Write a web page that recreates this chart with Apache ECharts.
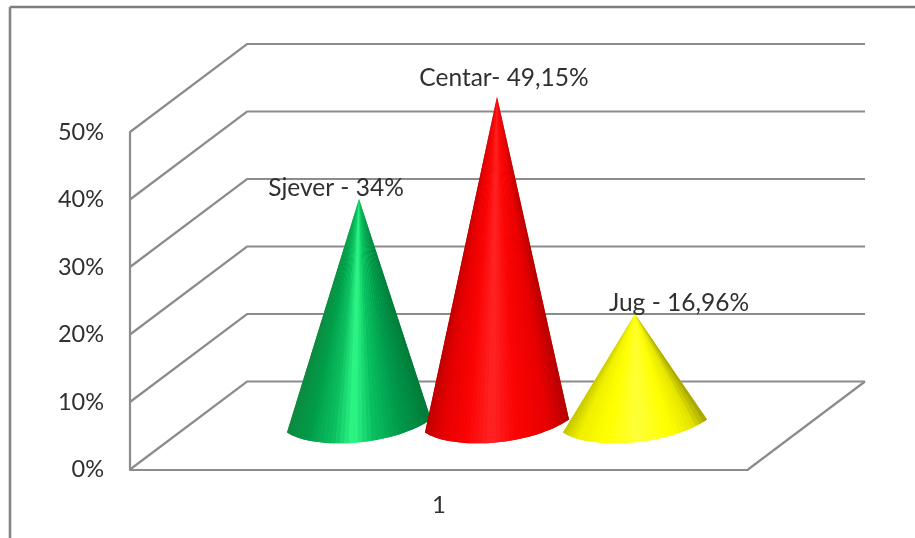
<!DOCTYPE html>
<html>
<head>
<meta charset="utf-8">
<style>
html,body{margin:0;padding:0;background:#fff;overflow:hidden}
#chart{width:915px;height:538px;filter:blur(0.6px)}
</style>
<script src="https://cdn.jsdelivr.net/npm/echarts@6/dist/echarts.min.js"></script>
</head>
<body>
<div id="chart"></div>
<script>
const categories = ['1'];
const regionNames = ['Sjever', 'Jug', 'Centar'];
const regionValues = [34, 16.96, 49.15];
const regionLabels = ['Sjever - 34%', 'Jug - 16,96%', 'Centar- 49,15%'];
const yTicks = [0, 10, 20, 30, 40, 50];

const FONT = 'Lato, "Open Sans", sans-serif';
const GRID_COLOR = '#8c8c8c';
const TEXT_COLOR = '#303030';
const DEPTH = [117, -88];
const CONE_DEPTH_Y = -39;
const CONE_TIP_DEPTH_Y = -41;
const CONE_RADIUS = 72;
const coneStyle = {
  Sjever: {dx: -80, labelDx: -23, labelY: 11, stops: [[0,'#10883f'],[0.2,'#009c48'],[0.38,'#0cc060'],[0.5,'#30fa88'],[0.62,'#08c060'],[0.8,'#00984a'],[1,'#007a38']]},
  Centar: {dx: 58, labelDx: 7, labelY: 19, stops: [[0,'#bc0000'],[0.15,'#e40000'],[0.35,'#fb0404'],[0.5,'#ff2424'],[0.65,'#fb0404'],[0.85,'#e80000'],[1,'#b40000']]},
  Jug: {dx: 196, labelDx: 44, labelY: 11, stops: [[0,'#c4c400'],[0.15,'#f0f000'],[0.35,'#ffff00'],[0.55,'#ffff38'],[0.75,'#ffff00'],[0.9,'#e4e400'],[1,'#a0a000']]}
};

function hex(c){return [1,3,5].map(i=>parseInt(c.substr(i,2),16));}
function shade(stops,t){
  for(let i=1;i<stops.length;i++){
    if(t<=stops[i][0]){
      const a=stops[i-1],b=stops[i],k=(t-a[0])/(b[0]-a[0]);
      const ca=hex(a[1]),cb=hex(b[1]);
      return 'rgb('+ca.map((v,j)=>Math.round(v+(cb[j]-v)*k)).join(',')+')';
    }
  }
  return stops[stops.length-1][1];
}
function bez(p0,p1,p2,p3,t){
  const u=1-t;
  return [0,1].map(i=>u*u*u*p0[i]+3*u*u*t*p1[i]+3*u*t*t*p2[i]+t*t*t*p3[i]);
}

function renderWalls(params, api){
  const cs = params.coordSys;
  const v = api.value(0);
  const front = api.coord([0, v]);
  const x0 = cs.x, y = front[1], x1 = cs.x + cs.width;
  const style = {stroke: GRID_COLOR, lineWidth: 2.2, fill: null};
  const children = [{
    type:'polyline', silent:true,
    shape:{points:[[x0,y],[x0+DEPTH[0],y+DEPTH[1]],[x1+DEPTH[0],y+DEPTH[1]]]},
    style
  }];
  if(v===0){
    children.push({type:'line',silent:true,shape:{x1:x1,y1:y,x2:x1+DEPTH[0],y2:y+DEPTH[1]},style});
  }
  return {type:'group',children};
}

function coneRenderer(name,label){
  const st = coneStyle[name];
  return function(params, api){
    const top = api.coord([0, api.value(1)]);
    const base = api.coord([0, 0]);
    const cx = top[0] + st.dx;
    const tip = [cx, top[1] + CONE_TIP_DEPTH_Y];
    const by = base[1] + CONE_DEPTH_Y;
    const L = [cx-CONE_RADIUS, by+2], R = [cx+CONE_RADIUS, by-11];
    const c1 = [cx-46, by+19], c2 = [cx+30, by+17];
    const n = 36, outline = [tip], slices = [];
    let prev = L;
    outline.push(L);
    for(let i=1;i<=n;i++){
      const p = bez(L,c1,c2,R,i/n);
      outline.push(p);
      slices.push({type:'polygon',silent:true,
        shape:{points:[tip,prev,p]},
        style:{fill:shade(st.stops,(i-0.5)/n)}});
      prev = p;
    }
    const under = {type:'polygon',silent:true,shape:{points:outline},
      style:{fill:new echarts.graphic.LinearGradient(0,0,1,0,
        st.stops.map(s=>({offset:s[0],color:s[1]})))}};
    const text = {type:'text',silent:true,
      style:{text:label,x:cx+st.labelDx,y:tip[1]-st.labelY,align:'center',verticalAlign:'middle',
        font:'24.5px '+FONT,fill:TEXT_COLOR}};
    return {type:'group',children:[under].concat(slices,[text])};
  };
}

const chart = echarts.init(document.getElementById('chart'), null, {renderer:'canvas'});
const series = [{
  type:'custom', silent:true, z:1,
  data: yTicks.map(v=>[v]),
  encode:{y:0},
  renderItem: renderWalls
}];
regionNames.forEach((name,i)=>{
  series.push({
    type:'custom', name, silent:true, z:2+i,
    data:[[0,regionValues[i]]],
    encode:{x:0,y:1},
    renderItem: coneRenderer(name,regionLabels[i])
  });
});

chart.setOption({
  animation:false,
  backgroundColor:'#ffffff',
  grid:{left:130,top:132,width:618,height:337.5,containLabel:false},
  xAxis:{type:'category',data:categories,
    axisLine:{show:true,lineStyle:{color:GRID_COLOR,width:2.2}},
    axisTick:{show:false},
    axisLabel:{color:TEXT_COLOR,fontSize:24,fontFamily:FONT,margin:24},
    splitLine:{show:false}},
  yAxis:{type:'value',min:0,max:50,interval:10,
    axisLine:{show:true,onZero:false,lineStyle:{color:GRID_COLOR,width:2.2}},
    axisTick:{show:false},
    axisLabel:{color:TEXT_COLOR,fontSize:23.5,fontFamily:FONT,margin:26,formatter:'{value}%'},
    splitLine:{show:false}},
  graphic:[
    {type:'line',silent:true,shape:{x1:10,y1:7,x2:915,y2:7},style:{stroke:'#7c7c7c',lineWidth:2.6}},
    {type:'line',silent:true,shape:{x1:10,y1:7,x2:10,y2:538},style:{stroke:'#858585',lineWidth:2.6}}
  ],
  series
});
</script>
</body>
</html>
